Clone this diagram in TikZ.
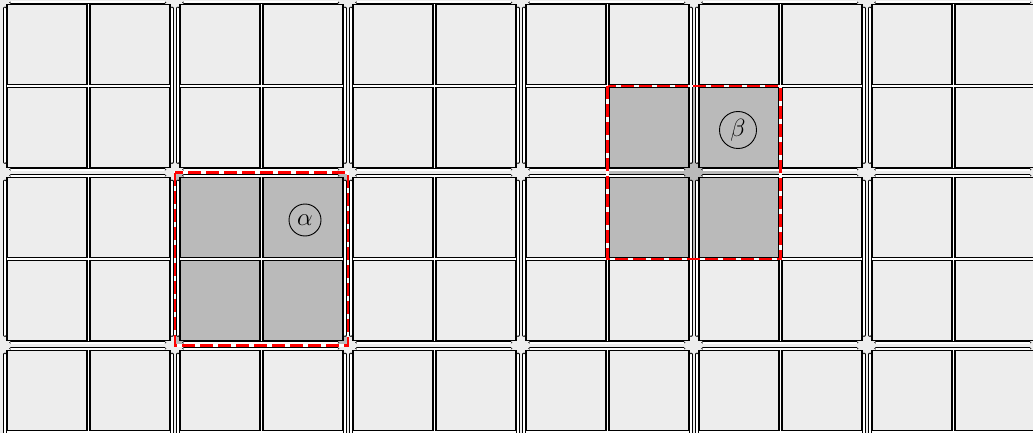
\documentclass[tikz,border=0pt]{standalone}
\usepackage{tikz}
\definecolor{bg}{RGB}{237,237,237}
\definecolor{sel}{RGB}{186,186,186}
\tikzset{
  cellbox/.style={draw=black, line width=1.1pt},
  pipe/.style={draw=black, double=white, double distance=2.0pt, line width=0.8pt, line cap=round},
  selunder/.style={draw=white, line width=2.8pt},
  selline/.style={draw=red, line width=2.8pt, dash pattern=on 13pt off 5pt},
  lbl/.style={circle, draw=black, line width=0.9pt, inner sep=0pt, font=\fontsize{28}{32}\selectfont}
}
\begin{document}
\begin{tikzpicture}[x=1pt,y=-1pt]
\useasboundingbox (0,0) rectangle (1033,433);
\clip (0,0) rectangle (1033,433);
\fill[bg] (0,0) rectangle (1033,433);
% selected regions (grey background)
\fill[sel] (175,172.5) rectangle (348,345.5);
\fill[sel] (607.5,86) rectangle (780.5,259);
% blocks and cells
\foreach \i in {0,...,5}{
  \foreach \j in {0,1,2}{
    \pgfmathsetmacro\X{7+173*\i}
    \pgfmathsetmacro\Y{4.5+173*\j}
    \fill[white] (\X,\Y) rectangle ++(163,163);
    \foreach \a in {0,83}{
      \foreach \b in {0,83}{
        \filldraw[cellbox, fill=bg] (\X+\a,\Y+\b) rectangle ++(80,80);
      }
    }
  }
}
% grey cells
\foreach \cx/\cy in {180/177.5, 263/177.5, 180/260.5, 263/260.5,
                     609/87.5, 699/87.5, 609/177.5, 699/177.5}{
  \filldraw[cellbox, fill=sel] (\cx,\cy) rectangle ++(80,80);
}
% pipes
\foreach \i in {0,...,5}{
  \foreach \j in {0,1,2}{
    \pgfmathsetmacro\X{7+173*\i}
    \pgfmathsetmacro\Y{4.5+173*\j}
    \draw[pipe] (\X-2,\Y+4) -- (\X-2,\Y+157.5);
    \draw[pipe] (\X+165,\Y+4) -- (\X+165,\Y+157.5);
    \draw[pipe] (\X+4,\Y-2) -- (\X+157.5,\Y-2);
    \draw[pipe] (\X+4,\Y+165) -- (\X+157.5,\Y+165);
  }
}
% selection outlines
\draw[selunder] (175,172.5) rectangle (348,345.5);
\draw[selline] (175,172.5) rectangle (348,345.5);
\draw[selunder] (607.5,86) rectangle (780.5,259);
\draw[selline] (607.5,86) rectangle (780.5,259);
% labels
\node[lbl, minimum size=32pt] (alpha) at (305,220) {$\alpha$};
\node[lbl, minimum size=37pt] (beta) at (738,130) {$\beta$};
\end{tikzpicture}
\end{document}
